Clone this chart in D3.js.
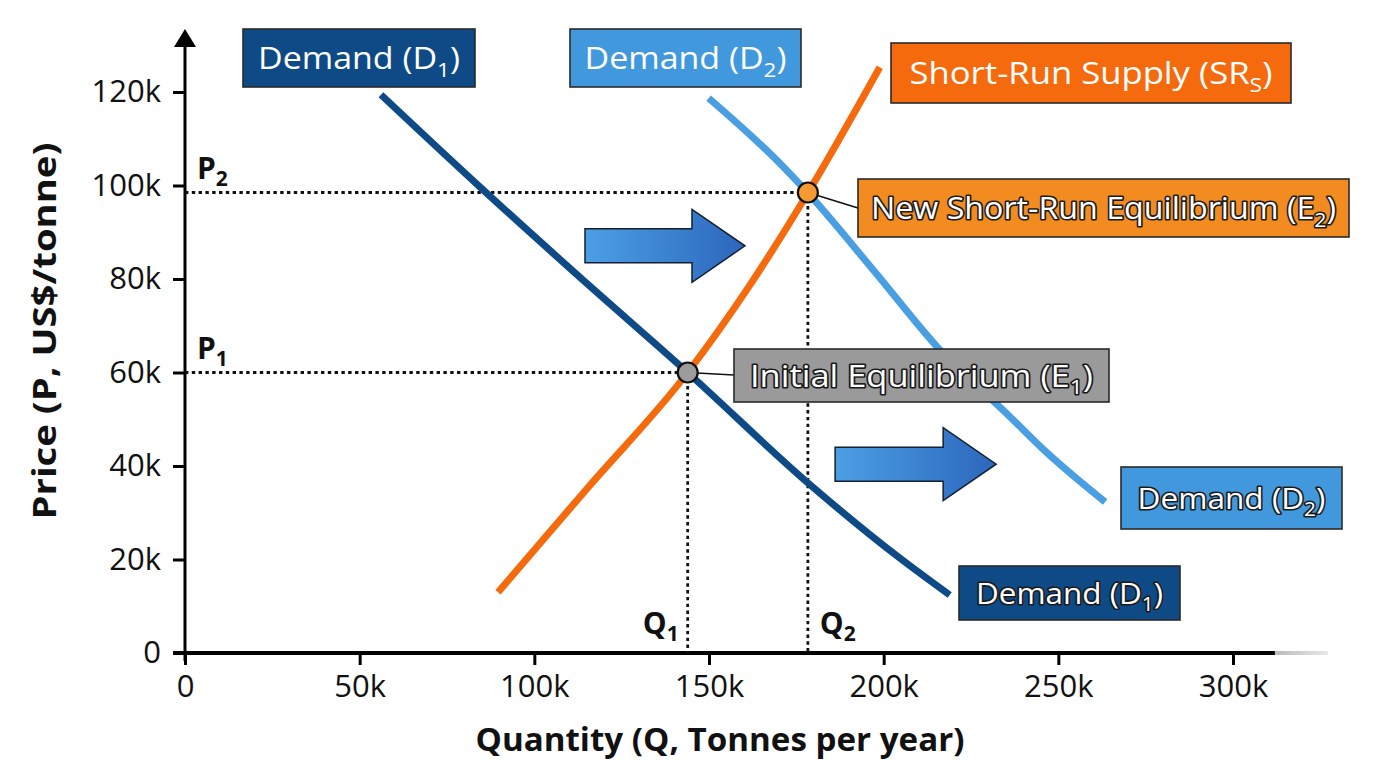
<!DOCTYPE html>
<html><head><meta charset="utf-8">
<script src="https://cdn.jsdelivr.net/npm/d3@7"></script>
<style>body{margin:0;background:#fff;} svg{display:block;} text{font-family:'Open Sans',sans-serif;}</style>
</head><body><svg id="c" width="1376" height="768"></svg>
<script>
// ---------- data ----------
const xTickValues = [0, 50000, 100000, 150000, 200000, 250000, 300000];
const yTickValues = [0, 20000, 40000, 60000, 80000, 100000, 120000];
const demandD1 = [[56100,119400],[84400,99700],[113000,80400],[143900,60000],[178300,36400],[204600,20300],[218900,12400]];
const demandD2 = [[149900,118700],[170200,104800],[178300,98400],[197500,81500],[215300,65500],[236200,50500],[246800,42800],[263400,32300]];
const supplySR = [[89600,13000],[115000,35100],[143900,60000],[161700,78700],[178300,98400],[198900,125300]];
const equilibria = [{id:'E1', q:143900, p:60000, pLabel:'1', qLabel:'1'}, {id:'E2', q:178300, p:98500, pLabel:'2', qLabel:'2'}];
const shiftArrows = [{q0:114500, q1:160300, p:87100}, {q0:186100, q1:232200, p:40400}];

// ---------- layout ----------
const svg = d3.select('#c');
const x = d3.scaleLinear().domain([0, 300000]).range([185, 1233]);
const y = d3.scaleLinear().domain([0, 120000]).range([653, 92]);
const fmtK = d => d === 0 ? '0' : (d/1000) + 'k';

const defs = svg.append('defs');
const grad = defs.append('linearGradient').attr('id','arrowGrad').attr('x1','0%').attr('x2','100%');
grad.append('stop').attr('offset','0%').attr('stop-color','#4c9fe4');
grad.append('stop').attr('offset','55%').attr('stop-color','#3a80cf');
grad.append('stop').attr('offset','100%').attr('stop-color','#2c66bb');
const fade = defs.append('linearGradient').attr('id','fadeGrad').attr('x1','0%').attr('x2','100%');
fade.append('stop').attr('offset','0%').attr('stop-color','#bbb');
fade.append('stop').attr('offset','100%').attr('stop-color','#e8e8e8');

function fitText(g, t, cx, baseline, tw, rotate) {
  const bb = t.node().getBBox();
  const sx = tw / bb.width;
  if (rotate) g.attr('transform', `translate(${cx},${baseline}) rotate(-90) translate(${-tw/2},0) scale(${sx},1)`);
  else g.attr('transform', `translate(${cx - tw/2},${baseline}) scale(${sx},1)`);
}

// ---------- axes ----------
const yAxis = d3.axisLeft(y).tickValues(yTickValues).tickFormat(fmtK).tickSize(12).tickPadding(12);
const gy = svg.append('g').attr('transform', `translate(${x(0)},0)`).call(yAxis);
gy.select('.domain').remove();
gy.selectAll('.tick line').attr('stroke','#000').attr('stroke-width',3);
gy.selectAll('.tick text').attr('font-size',31).attr('fill','#111').attr('font-family','Open Sans');

const xAxis = d3.axisBottom(x).tickValues(xTickValues).tickFormat(fmtK).tickSize(12).tickPadding(10);
const gx = svg.append('g').attr('transform', `translate(0,${y(0)})`).call(xAxis);
gx.select('.domain').remove();
gx.selectAll('.tick line').attr('stroke','#000').attr('stroke-width',3);
gx.selectAll('.tick text').attr('font-size',31).attr('fill','#111').attr('font-family','Open Sans');

svg.append('rect').attr('x', x(312000)).attr('y', y(0)-2).attr('width', 53).attr('height', 4).attr('fill','url(#fadeGrad)');
svg.append('line').attr('x1', x(0)-12).attr('x2', x(312000)).attr('y1', y(0)).attr('y2', y(0)).attr('stroke','#000').attr('stroke-width',4);
svg.append('line').attr('x1', x(0)).attr('x2', x(0)).attr('y1', y(0)+8).attr('y2', 44).attr('stroke','#000').attr('stroke-width',3);
svg.append('path').attr('d', `M${x(0)},29 L${x(0)+11},47 L${x(0)-11},47 Z`).attr('fill','#000');

{
  const g = svg.append('g');
  const t = g.append('text').attr('font-size',32).attr('font-weight',700).attr('fill','#111').text('Quantity (Q, Tonnes per year)');
  fitText(g, t, 720, 751, 489, false);
}
{
  const g = svg.append('g');
  const t = g.append('text').attr('font-size',32).attr('font-weight',700).attr('fill','#111').text('Price (P, US$/tonne)');
  fitText(g, t, 56, 331, 377, true);
}

// ---------- guide lines ----------
const guides = svg.append('g');
equilibria.forEach(e => {
  guides.append('line').attr('x1', x(0)).attr('x2', x(e.q)).attr('y1', y(e.p)).attr('y2', y(e.p))
    .attr('stroke','#111').attr('stroke-width',2.8).attr('stroke-dasharray','3.4,3.4');
  guides.append('line').attr('x1', x(e.q)).attr('x2', x(e.q)).attr('y1', y(e.p)).attr('y2', y(0))
    .attr('stroke','#111').attr('stroke-width',2.8).attr('stroke-dasharray','3.4,3.4');
});

function subLabel(g, main, sub, opts) {
  const t = g.append('text').attr('x', opts.x).attr('y', opts.y).attr('font-size', opts.size)
    .attr('font-weight', opts.weight || 400).attr('fill', opts.fill || '#111').attr('text-anchor', opts.anchor || 'start');
  t.append('tspan').text(main);
  t.append('tspan').attr('font-size', opts.size*0.7).attr('dy', opts.size*0.24).text(sub);
  return t;
}
const lab = svg.append('g');
equilibria.forEach(e => {
  subLabel(lab, 'P', e.pLabel, {x: x(0)+12, y: y(e.p)-14, size: 30, weight: 700});
});
subLabel(lab, 'Q', equilibria[0].qLabel, {x: x(equilibria[0].q)-9, y: y(0)-19, size: 30, weight: 700, anchor: 'end'});
subLabel(lab, 'Q', equilibria[1].qLabel, {x: x(equilibria[1].q)+12, y: y(0)-19, size: 30, weight: 700});

// ---------- shift arrows ----------
shiftArrows.forEach(a => {
  const x0 = x(a.q0), x1 = x(a.q1), yc = y(a.p);
  const hb = x1 - 53, bh = 17, hh = 36.5;
  svg.append('path').attr('d', `M${x0},${yc-bh} L${hb},${yc-bh} L${hb},${yc-hh} L${x1},${yc} L${hb},${yc+hh} L${hb},${yc+bh} L${x0},${yc+bh} Z`)
    .attr('fill','url(#arrowGrad)').attr('stroke','#15202e').attr('stroke-width',1.5).attr('stroke-linejoin','miter');
});

// ---------- curves ----------
const line = d3.line().x(d => x(d[0])).y(d => y(d[1])).curve(d3.curveMonotoneX);
svg.append('path').datum(demandD2).attr('d', line).attr('fill','none').attr('stroke','#4a9ee2').attr('stroke-width',7);
svg.append('path').datum(demandD1).attr('d', line).attr('fill','none').attr('stroke','#0d4a86').attr('stroke-width',7);
svg.append('path').datum(supplySR).attr('d', line).attr('fill','none').attr('stroke','#f46a0c').attr('stroke-width',7);

// ---------- callout boxes ----------
function box(cfg) {
  const g = svg.append('g');
  g.append('rect').attr('x', cfg.x).attr('y', cfg.y).attr('width', cfg.w).attr('height', cfg.h)
    .attr('fill', cfg.fill).attr('stroke', '#2a2a2a').attr('stroke-width', 1.6);
  const tg = g.append('g');
  const t = tg.append('text').attr('x',0).attr('y',0).attr('font-size', cfg.size).attr('fill','#fff');
  if (cfg.outline) t.attr('stroke','#1a1a1a').attr('stroke-width',3.2).attr('paint-order','stroke').attr('stroke-linejoin','round');
  t.append('tspan').text(cfg.main);
  t.append('tspan').attr('font-size', cfg.size*0.66).attr('dy', cfg.size*0.24).text(cfg.sub);
  t.append('tspan').attr('dy', -cfg.size*0.24).text(')');
  const cx = cfg.x + cfg.w/2;
  const cy = cfg.y + cfg.h/2 + cfg.size*0.714/2;
  fitText(tg, t, cx, cy, cfg.tw, false);
  return g;
}
const e1 = equilibria[0], e2 = equilibria[1];
svg.append('line').attr('x1', x(e2.q)).attr('y1', y(e2.p)).attr('x2', 858).attr('y2', 208).attr('stroke','#111').attr('stroke-width',1.6);
svg.append('line').attr('x1', x(e1.q)).attr('y1', y(e1.p)).attr('x2', 734).attr('y2', 375).attr('stroke','#111').attr('stroke-width',1.6);

box({x:243, y:29, w:232, h:58, fill:'#0d4a86', main:'Demand (D', sub:'1', size:31, tw:202});
box({x:570, y:29, w:231, h:58, fill:'#4198dc', main:'Demand (D', sub:'2', size:31, tw:202});
box({x:891, y:43, w:400, h:60, fill:'#f56a0c', main:'Short-Run Supply (SR', sub:'S', size:31, tw:363});
box({x:858, y:179, w:491, h:58, fill:'#f28c20', main:'New Short-Run Equilibrium (E', sub:'2', size:31, tw:465, outline:true});
box({x:734, y:349, w:375, h:53, fill:'#9a9a9a', main:'Initial Equilibrium (E', sub:'1', size:31, tw:343, outline:true});
box({x:1121, y:467, w:221, h:62, fill:'#4198dc', main:'Demand (D', sub:'2', size:30, tw:188, outline:true});
box({x:959, y:566, w:221, h:54, fill:'#0d4a86', main:'Demand (D', sub:'1', size:30, tw:187, outline:true});

svg.selectAll('circle.eq').data(equilibria).enter().append('circle').attr('class','eq')
  .attr('cx', d => x(d.q)).attr('cy', d => y(d.p)).attr('r', 10)
  .attr('fill', d => d.id === 'E1' ? '#9c9c9c' : '#f59a32').attr('stroke','#111').attr('stroke-width',2.2);
</script></body></html>
